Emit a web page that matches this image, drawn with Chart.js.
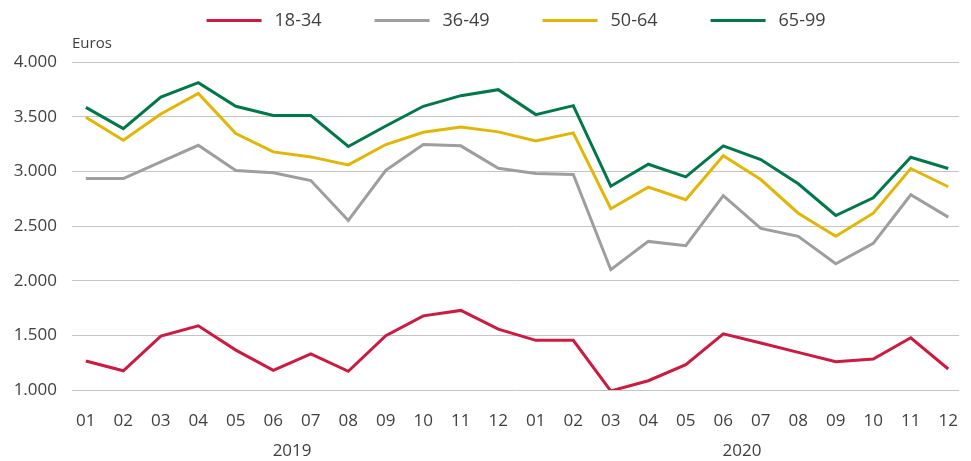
<!DOCTYPE html>
<html>
<head>
<meta charset="utf-8">
<script src="https://cdn.jsdelivr.net/npm/chart.js@4/dist/chart.umd.min.js"></script>
<style>
  html, body { margin: 0; padding: 0; background: #fff; }
  #wrap { width: 971px; height: 461px; position: relative; }
</style>
</head>
<body>
<div id="wrap"><canvas id="myChart"></canvas></div>
<script>
// 월 라벨 (2019-01 ~ 2020-12)
const months = ["01","02","03","04","05","06","07","08","09","10","11","12",
                "01","02","03","04","05","06","07","08","09","10","11","12"];
const years = ["2019", "2020"];
const yTicks = [1000, 1500, 2000, 2500, 3000, 3500, 4000];

// 연령대별 값 (Euros)
const age1834 = [1265,1176,1493,1587,1365,1180,1331,1171,1496,1678,1728,1557,
                 1454,1454,991,1085,1231,1514,1430,1344,1259,1283,1478,1192];
const age3649 = [2934,2934,3087,3238,3007,2986,2916,2551,3010,3245,3233,3028,
                 2980,2971,2100,2359,2320,2777,2478,2405,2155,2341,2786,2581];
const age5064 = [3494,3284,3525,3713,3345,3178,3132,3059,3245,3357,3406,3361,
                 3278,3352,2658,2855,2740,3142,2925,2617,2407,2617,3026,2859];
const age6599 = [3585,3391,3680,3811,3595,3510,3510,3227,3415,3595,3692,3747,
                 3519,3601,2864,3065,2950,3233,3108,2886,2596,2758,3129,3026];

const FONT = "'Open Sans', 'Noto Sans', sans-serif";
const TXT = "#404040";

function toPoints(arr) {
	return arr.map(function(v, i) { return { x: i, y: v }; });
}

function makeSet(label, arr, color) {
	return {
		label: label,
		data: toPoints(arr),
		borderColor: color,
		backgroundColor: color,
		borderWidth: 3,
		pointRadius: 0,
		tension: 0
	};
}

// 범례 + 단위 + 연도 라벨
const extras = {
	id: "extras",
	afterDraw(chart) {
		const c = chart.ctx;
		const area = chart.chartArea;
		const x = chart.scales.x;
		c.save();
		c.fillStyle = TXT;

		// 단위
		c.font = "15px " + FONT;
		c.textAlign = "left";
		c.textBaseline = "middle";
		c.fillText("Euros", area.left, 44);

		// 연도
		c.font = "17px " + FONT;
		c.textAlign = "center";
		c.fillText(years[0], x.getPixelForValue(5.5), 451);
		c.fillText(years[1], x.getPixelForValue(17.5), 451);

		// 범례
		const sets = chart.data.datasets;
		c.font = "18px " + FONT;
		const step = 168;
		let lx = (area.left + area.right) / 2 - 309;
		c.textAlign = "left";
		sets.forEach(function(s) {
			c.strokeStyle = s.borderColor;
			c.lineWidth = 3;
			c.beginPath();
			c.moveTo(lx, 20.5);
			c.lineTo(lx + 55, 20.5);
			c.stroke();
			c.fillText(s.label, lx + 68, 21);
			lx += step;
		});
		c.restore();
	}
};

const ctx = document.getElementById("myChart");

const config = {
	type: "line",
	data: {
		datasets: [
			makeSet("18-34", age1834, "#CC1A40"),
			makeSet("36-49", age3649, "#9E9E9E"),
			makeSet("50-64", age5064, "#E3B505"),
			makeSet("65-99", age6599, "#00784A")
		]
	},
	options: {
		responsive: true,
		maintainAspectRatio: false,
		animation: false,
		layout: { padding: { top: 62, right: 1, left: 0, bottom: 0 } },
		plugins: {
			legend: { display: false },
			tooltip: { enabled: false }
		},
		scales: {
			x: {
				type: "linear",
				min: -0.369,
				max: 23.29,
				grid: { display: false },
				border: { display: false },
				afterBuildTicks: function(s) {
					s.ticks = months.map(function(m, i) { return { value: i }; });
				},
				afterFit: function(s) { s.height = 71; },
				ticks: {
					autoSkip: false,
					maxRotation: 0,
					padding: 13,
					color: TXT,
					font: { family: FONT, size: 17 },
					callback: function(v) { return months[v]; }
				}
			},
			y: {
				min: 1000,
				max: 4000,
				afterBuildTicks: function(s) {
					s.ticks = yTicks.map(function(v) { return { value: v }; });
				},
				afterFit: function(s) { s.width = 72; },
				grid: { color: "#C4C4C4", lineWidth: 1, drawTicks: false },
				border: { display: false },
				ticks: {
					padding: 15,
					color: TXT,
					font: { family: FONT, size: 17 },
					callback: function(v) { return String(v).replace(/^(\d)(\d{3})$/, "$1.$2"); }
				}
			}
		}
	},
	plugins: [extras]
};

const myChart = new Chart(ctx, config);
</script>
</body>
</html>
